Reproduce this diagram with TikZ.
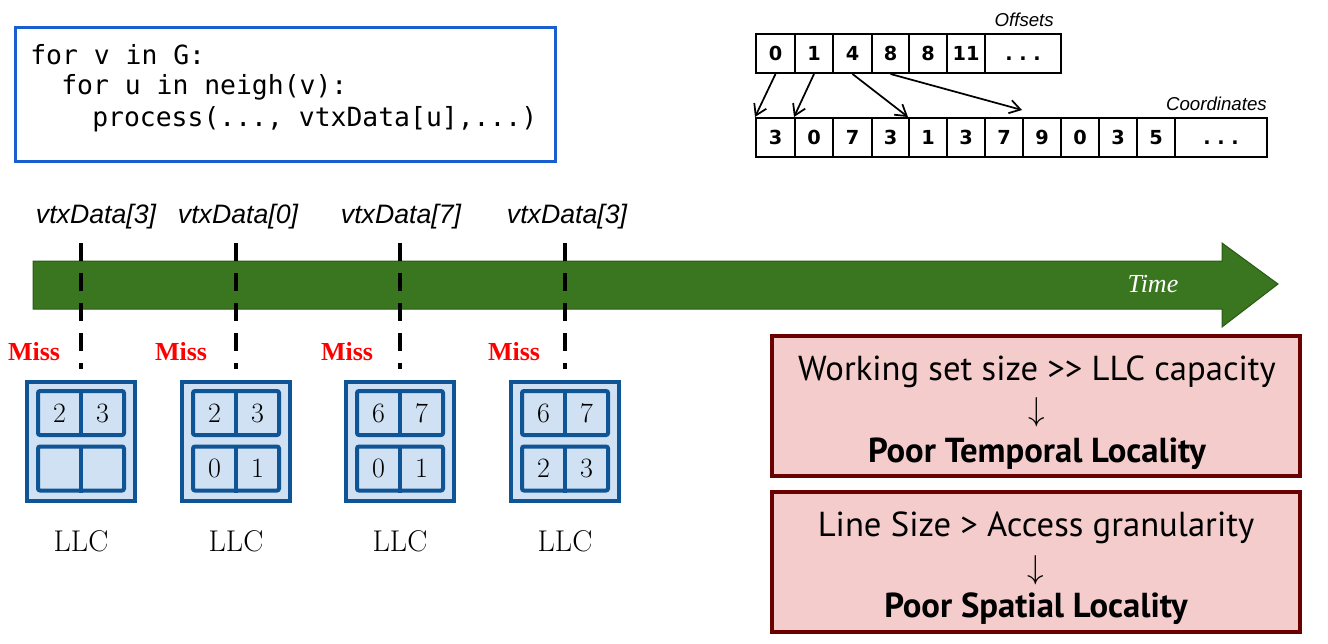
\documentclass[tikz,border=0pt]{standalone}
\usepackage{fontspec}
\usetikzlibrary{arrows.meta}
\newfontfamily\codefont{DejaVu Sans Mono}
\newfontfamily\arialf{Liberation Sans}
\newfontfamily\timesf{Liberation Serif}
\newfontfamily\ptsans{PT Sans}
\newfontfamily\verdf{DejaVu Sans}
\definecolor{codeblue}{HTML}{1A5FD0}
\definecolor{llcblue}{HTML}{0F5596}
\definecolor{llcfill}{HTML}{CFE1F3}
\definecolor{tgreen}{HTML}{3A7520}
\definecolor{tgreendark}{HTML}{2A5A15}
\definecolor{pinkfill}{HTML}{F4CCCC}
\definecolor{darkred}{HTML}{6A0000}
\begin{document}
\begin{tikzpicture}[x=0.75pt,y=-0.75pt,
  codeline/.style={anchor=west,inner sep=0,font=\codefont\fontsize{19.8}{22}\selectfont},
  cell/.style={draw,line width=1.5pt,inner sep=0,minimum height=29.25pt,font=\verdf\bfseries\fontsize{14.5}{16}\selectfont},
  arrlab/.style={inner sep=0,font=\arialf\itshape\fontsize{14}{16}\selectfont},
  arr/.style={line width=1.3pt,-{Straight Barb[length=8pt,width=10pt,line width=1.3pt]}},
  vlab/.style={inner sep=0,font=\arialf\itshape\fontsize{20}{24}\selectfont},
  tick/.style={line width=3pt,dash pattern=on 13.5pt off 9pt},
  miss/.style={inner sep=0,text=red,font=\timesf\bfseries\fontsize{19.5}{22}\selectfont},
  outerbox/.style={draw=llcblue,fill=llcfill,line width=3pt,minimum width=81pt,minimum height=89.25pt,inner sep=0},
  rowbox/.style={draw=llcblue,line width=3pt,rounded corners=1.5pt,minimum width=64.5pt,minimum height=33pt,inner sep=0},
  digit/.style={inner sep=0,font=\fontsize{21}{24}\selectfont},
  llclab/.style={inner sep=0,font=\fontsize{22.5}{26}\selectfont},
  pinkbox/.style={draw=darkred,fill=pinkfill,line width=3pt,minimum width=396pt,minimum height=105pt,inner sep=0},
  pinktext/.style={inner sep=0,font=\ptsans\fontsize{26}{30}\selectfont},
  pinkbold/.style={inner sep=0,font=\ptsans\bfseries\fontsize{26}{30}\selectfont},
  downarr/.style={inner sep=0,font=\fontsize{24}{28}\selectfont}
]
\useasboundingbox (0,0) rectangle (1328,643);
% code box
\node[draw=codeblue,line width=2.25pt,minimum width=405pt,minimum height=100.5pt,inner sep=0] (code) at (285.5,94.5) {};
\node[codeline] (l1) at (30,55) {for v in G:};
\node[codeline] (l2) at (61,87) {for u in neigh(v):};
\node[codeline] (l3) at (92,119) {process(..., vtxData[u],...)};
% offsets array
\foreach \l/\r/\t/\n in {756/795/0/oa,795/833/1/ob,833/872/4/oc,872/909/8/od,909/947/8/oe,947/985/11/of,985/1061/.\ .\ ./og}
  \node[cell,minimum width={(\r-\l)*0.75}] (\n) at ({(\l+\r)/2},53.5) {\vphantom{0}\t};
\foreach \l/\r/\t/\n in {756/795/3/ca,795/833/0/cb,833/872/7/cc,872/909/3/cd,909/947/1/ce,947/985/3/cf,985/1023/7/cg,1023/1061/9/ch,1061/1099/0/ci,1099/1137/3/cj,1137/1175/5/ck,1175/1267/.\ .\ ./cl}
  \node[cell,minimum width={(\r-\l)*0.75}] (\n) at ({(\l+\r)/2},137.5) {\vphantom{0}\t};
\node[arrlab,anchor=south east] (offl) at (1054,27) {Offsets};
\node[arrlab,anchor=south east] (coordl) at (1267,111) {Coordinates};
\coordinate (e8) at (1022,110);
\draw[arr] (oa.south) -- (ca.north west);
\draw[arr] (ob.south) -- (cb.north west);
\draw[arr] (oc.south) -- (ce.north west);
\draw[arr] (od.south) -- (e8);
% time arrow
\draw[fill=tgreen,draw=tgreendark,line width=0.75pt] (33,261) -- (1222,261) -- (1222,243) -- (1278,284) -- (1222,327) -- (1222,309) -- (33,309) -- cycle;
\node[inner sep=0,text=white,font=\timesf\itshape\fontsize{19.5}{22}\selectfont] (time) at (1153,284) {Time};
% labels and ticks
\foreach \cx/\lx/\t/\i in {81/96/3/1,236/238/0/2,400/401/7/3,565/567/3/4}{
  \node[vlab] (v\i) at (\lx,217) {vtxData[\t]};
  \coordinate (dt\i) at (\cx,243);
  \coordinate (db\i) at (\cx,369);
  \draw[tick] (dt\i) -- (db\i);
}
\foreach \mx/\i in {34/1,181/2,347/3,514/4}
  \node[miss] (m\i) at (\mx,352) {Miss};
% LLC boxes
\foreach \cx/\a/\b/\c/\d/\i in {81/2/3//{}/1,236/2/3/0/1/2,400/6/7/0/1/3,565/6/7/2/3/4}{
  \node[outerbox] (llc\i) at (\cx,441.5) {};
  \node[rowbox] (rt\i) at (\cx,413) {};
  \node[rowbox] (rb\i) at (\cx,468.5) {};
  \draw[llcblue,line width=3pt] (rt\i.north) -- (rt\i.south);
  \draw[llcblue,line width=3pt] (rb\i.north) -- (rb\i.south);
  \node[digit] (da\i) at (\cx-21.5,413) {\a};
  \node[digit] (db\i) at (\cx+21.5,413) {\b};
  \node[digit] (dc\i) at (\cx-21.5,468.5) {\c};
  \node[digit] (dd\i) at (\cx+21.5,468.5) {\d};
  \node[llclab] (ll\i) at (\cx,541) {LLC};
}
% pink boxes
\node[pinkbox] (p1) at (1036,406) {};
\node[pinktext] (p1a) at (1037,372) {Working set size >> LLC capacity};
\node[downarr] (p1b) at (1037,412) {$\downarrow$};
\node[pinkbold] (p1c) at (1037,454) {Poor Temporal Locality};
\node[pinkbox] (p2) at (1036,562) {};
\node[pinktext] (p2a) at (1036,528) {Line Size > Access granularity};
\node[downarr] (p2b) at (1036,570) {$\downarrow$};
\node[pinkbold] (p2c) at (1036,609) {Poor Spatial Locality};
\end{tikzpicture}
\end{document}
